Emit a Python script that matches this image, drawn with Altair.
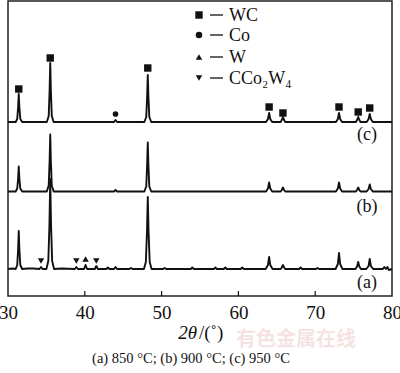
import altair as alt
import pandas as pd

# ---- data (relative intensity, arbitrary px-like units) ----
x_c = [30.0, 31.0, 31.2, 31.32, 31.4, 31.48, 31.6, 31.85,
       35.05, 35.3, 35.42, 35.5, 35.58, 35.7, 35.95,
       43.8, 44.0, 44.2,
       47.75, 48.0, 48.12, 48.2, 48.28, 48.4, 48.65,
       63.6, 63.85, 64.0, 64.15, 64.4,
       65.5, 65.65, 65.8, 65.95, 66.1,
       72.7, 72.95, 73.1, 73.25, 73.5,
       75.3, 75.45, 75.6, 75.75, 75.9,
       76.7, 76.95, 77.1, 77.25, 77.5, 80.0]
y_c = [0, 0, 3, 15, 28, 15, 3, 0,
       0, 6, 32, 59, 32, 6, 0,
       0, 2, 0,
       0, 5, 26, 47, 26, 5, 0,
       0, 3, 9, 3, 0,
       0, 2, 5, 2, 0,
       0, 3, 9, 3, 0,
       0, 2, 5, 2, 0,
       0, 3, 8, 3, 0, 0]

x_b = x_c
y_b = [0, 0, 3, 13, 25, 13, 3, 0,
       0, 6, 31, 57, 31, 6, 0,
       0, 1.5, 0,
       0, 5, 27, 49, 27, 5, 0,
       0, 3, 9, 3, 0,
       0, 1.5, 4, 1.5, 0,
       0, 3, 9, 3, 0,
       0, 1.5, 4, 1.5, 0,
       0, 2.5, 7, 2.5, 0, 0]

x_a = [30.0, 30.6, 31.0, 31.2, 31.32, 31.4, 31.48, 31.6, 31.85,
       32.5, 33.3, 34.1, 34.3, 34.5,
       35.0, 35.25, 35.4, 35.5, 35.6, 35.75, 36.0,
       37.0, 38.7, 38.9, 39.1, 39.9, 40.1, 40.3, 41.3, 41.5, 41.7,
       42.8, 43.0, 43.2, 43.8, 44.0, 44.2, 45.8, 46.0, 46.2,
       47.7, 47.95, 48.1, 48.2, 48.3, 48.45, 48.7,
       50.2, 50.4, 50.6, 53.8, 54.0, 54.2, 56.8, 57.0, 57.2, 58.1, 58.3, 58.5, 60.3, 60.5, 60.7,
       63.55, 63.85, 64.0, 64.15, 64.45,
       65.5, 65.65, 65.8, 65.95, 66.1,
       67.9, 68.1, 68.3, 70.1, 70.3, 70.5,
       72.65, 72.95, 73.1, 73.25, 73.55,
       75.25, 75.45, 75.6, 75.75, 75.95,
       76.65, 76.95, 77.1, 77.25, 77.55,
       78.8, 79.0, 79.2, 79.4, 79.6, 80.0]
y_a = [0, 0.5, 0, 4, 20, 38, 20, 4, 0,
       0.5, 0.5, 0, 2, 0,
       0, 8, 45, 90, 45, 8, 0,
       0.5, 0, 2, 0, 0, 4, 0, 0, 3, 0,
       0, 1.5, 0, 0, 2, 0, 0, 1, 0,
       0, 7, 38, 72, 38, 7, 0,
       0, 1, 0, 0, 1.5, 0, 0, 1.5, 0, 0, 1.5, 0, 0, 1.5, 0,
       0, 4, 12, 4, 0,
       0, 1.5, 4, 1.5, 0,
       0, 1.5, 0, 0, 1, 0,
       0, 5, 16, 5, 0,
       0, 2.5, 7, 2.5, 0,
       0, 3, 10, 3, 0,
       0, 2, 0, 2, -1, 0]

# phase markers
wc_x = [31.4, 35.5, 48.2, 64.0, 65.8, 73.1, 75.6, 77.1]
wc_y = [33, 64, 54, 15, 9, 15, 10, 14]          # on curve (c)
co_x = [44.0]
co_y = [8]                                       # on curve (c)
w_x = [40.1]
w_y = [10]                                       # on curve (a)
cco_x = [34.3, 38.9, 41.5]
cco_y = [8, 8, 8]                                # on curve (a)

x_ticks = [30, 40, 50, 60, 70, 80]
legend_labels = ["WC", "Co", "W", "CCo\u2082W\u2084"]
curve_labels = ["(c)", "(b)", "(a)"]
caption = "(a)  850  \u00b0C; (b) 900 \u00b0C; (c) 950 \u00b0C"

# vertical offsets for the stacked patterns (display layout)
offset = {"a": 27, "b": 104.5, "c": 174}

SERIF = "Liberation Serif"
W, H = 384, 295

frames = []
for name, xs, ys in (("a", x_a, y_a), ("b", x_b, y_b), ("c", x_c, y_c)):
    frames.append(pd.DataFrame({"x": xs, "y": [v + offset[name] for v in ys],
                                "curve": name, "order": range(len(xs))}))
curves = pd.concat(frames, ignore_index=True)

marks = pd.concat([
    pd.DataFrame({"x": wc_x, "y": [v + offset["c"] for v in wc_y], "shape": "square", "size": 55}),
    pd.DataFrame({"x": co_x, "y": [v + offset["c"] for v in co_y], "shape": "circle", "size": 32}),
    pd.DataFrame({"x": w_x, "y": [v + offset["a"] for v in w_y], "shape": "triangle-up", "size": 42}),
    pd.DataFrame({"x": cco_x, "y": [v + offset["a"] for v in cco_y], "shape": "triangle-down", "size": 42}),
], ignore_index=True)

xscale = alt.Scale(domain=[30, 80], nice=False, zero=False)
yscale = alt.Scale(domain=[0, 295], nice=False, zero=False)

lines = alt.Chart(curves).mark_line(color="#111", strokeWidth=1.9, strokeJoin="round").encode(
    x=alt.X("x:Q", scale=xscale,
            axis=alt.Axis(values=x_ticks, ticks=False, domain=False, grid=False, title=None,
                          labelFont=SERIF, labelFontSize=19, labelColor="#111",
                          labelPadding=7, labelFlush=False, labelOverlap=False, labelBound=False)),
    y=alt.Y("y:Q", scale=yscale, axis=None),
    detail="curve:N",
    order="order:Q",
)

points = alt.Chart(marks).mark_point(filled=True, color="#111", opacity=1).encode(
    x=alt.X("x:Q", scale=xscale),
    y=alt.Y("y:Q", scale=yscale),
    shape=alt.Shape("shape:N", scale=None),
    size=alt.Size("size:Q", scale=None),
)

ticks = alt.Chart(pd.DataFrame({"x": x_ticks[1:-1]})).mark_rule(color="#111", strokeWidth=1.2).encode(
    x=alt.X("x:Q", scale=xscale), y=alt.value(H), y2=alt.value(H - 5))

# legend
leg_df = pd.DataFrame({"label": legend_labels,
                       "shape": ["square", "circle", "triangle-up", "triangle-down"],
                       "row": [0, 1, 2, 3]})
leg_y = [14, 34, 56, 77]
leg_layers = []
for i, row in leg_df.iterrows():
    sub = leg_df.iloc[[i]]
    leg_layers.append(alt.Chart(sub).mark_point(filled=True, color="#111", opacity=1,
                                                shape=row["shape"],
                                                size=55 if row["shape"] == "square" else 42).encode(
        x=alt.value(191), y=alt.value(leg_y[i])))
    leg_layers.append(alt.Chart(sub).mark_rule(color="#111", strokeWidth=1.3).encode(
        x=alt.value(202), x2=alt.value(215), y=alt.value(leg_y[i])))
    leg_layers.append(alt.Chart(sub).mark_text(align="left", baseline="middle", font=SERIF,
                                               fontSize=18, color="#111").encode(
        x=alt.value(221), y=alt.value(leg_y[i] + 1), text="label:N"))

# curve labels
cl_y = [134, 206, 282]
cl_layers = [alt.Chart(pd.DataFrame({"t": [t]})).mark_text(
    align="center", baseline="middle", font=SERIF, fontSize=18, color="#111").encode(
    x=alt.value(359), y=alt.value(cl_y[i]), text="t:N") for i, t in enumerate(curve_labels)]

# axis title  2θ/(°)
title_a = alt.Chart(pd.DataFrame({"t": ["2\u03b8"]})).mark_text(
    align="right", baseline="middle", font=SERIF, fontSize=19, fontStyle="italic", color="#111").encode(
    x=alt.value(189), y=alt.value(332), text="t:N")
title_b = alt.Chart(pd.DataFrame({"t": ["/(\u02da)"]})).mark_text(
    align="left", baseline="middle", font=SERIF, fontSize=19, color="#111").encode(
    x=alt.value(191), y=alt.value(332), text="t:N")

cap = alt.Chart(pd.DataFrame({"t": [caption]})).mark_text(
    align="center", baseline="middle", font=SERIF, fontSize=14.5, color="#111").encode(
    x=alt.value(183), y=alt.value(358), text="t:N")

# faint watermark
wm1 = alt.Chart(pd.DataFrame({"t": ["有色金属在线"]})).mark_text(
    align="left", baseline="middle", font="Noto Sans CJK SC", fontSize=20, fontWeight="bold",
    color="#e9b9b9", opacity=0.4).encode(x=alt.value(228), y=alt.value(339), text="t:N")

chart = alt.layer(wm1, lines, points, ticks, *leg_layers, *cl_layers, title_a, title_b, cap).properties(
    width=W, height=H,
    autosize=alt.AutoSizeParams(type="none"),
    padding={"left": 8, "top": 1, "right": 8, "bottom": 77},
    background="white",
).configure_view(stroke="#222", strokeWidth=1.5)

chart.save("out.html", embed_options={"renderer": "svg", "actions": False})
